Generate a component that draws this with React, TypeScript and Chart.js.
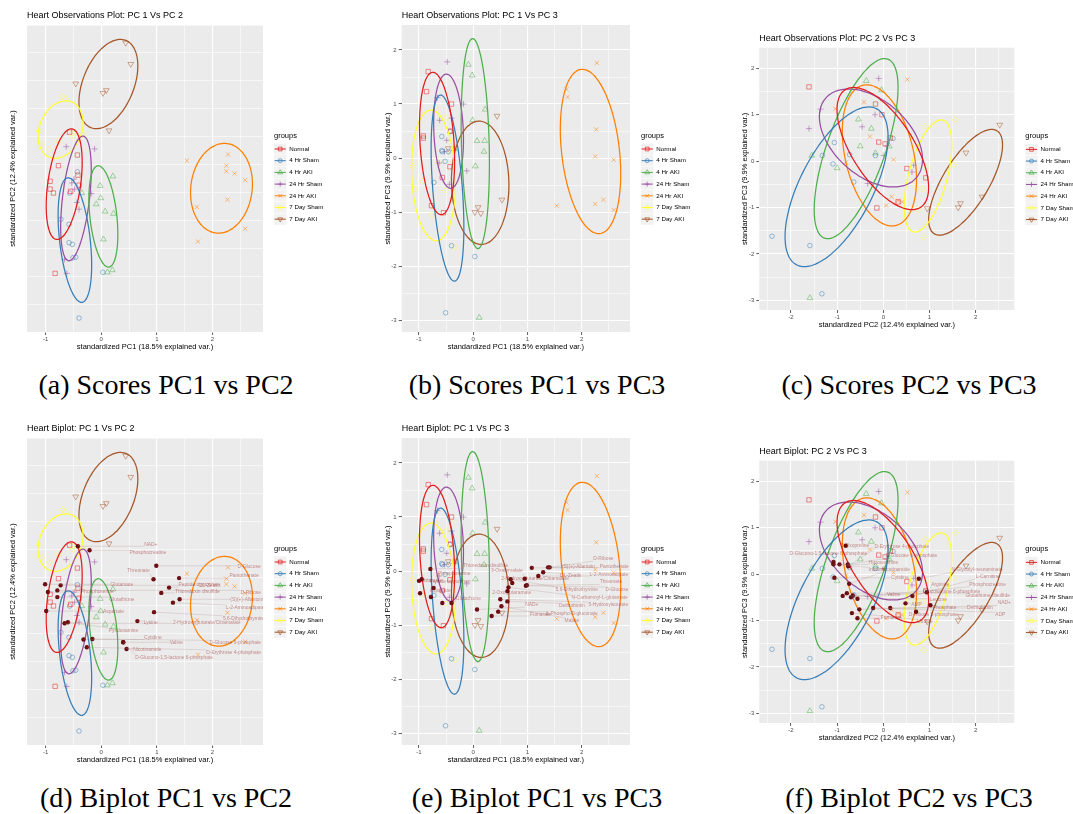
import React, { useEffect, useRef } from "react";
import { Chart, registerables } from "chart.js";

Chart.register(...registerables);

const FONT = "'Liberation Sans', Arial, Helvetica, sans-serif";
Chart.defaults.font.family = FONT;

// ---------- data ----------
const groupNames = ["Normal", "4 Hr Sham", "4 Hr AKI", "24 Hr Sham", "24 Hr AKI", "7 Day Sham", "7 Day AKI"];
const groupColors = ["#E41A1C", "#377EB8", "#4DAF4A", "#984EA3", "#FF7F00", "#FFFF33", "#A65628"];

// scores per sample: [PC1, PC2, PC3]
const normalScores = [
  [-0.57, 0.92, -0.36], [-0.43, 0.51, -0.16], [-0.77, 0.32, -0.88], [-0.92, 0.04, 0.37],
  [-0.92, -0.10, 0.41], [-0.86, -0.17, 1.23], [-0.42, 0.15, 0.50], [-0.40, -0.03, 1.00],
  [-0.55, -0.14, -1.01], [-0.83, -1.61, 1.60],
];
const sham4hScores = [
  [-0.43, 0.21, 0.49], [-0.57, -0.17, 0.12], [-0.725, -0.64, -0.45], [-0.58, -0.73, 0.14],
  [-0.58, -1.06, 0.40], [-0.52, -1.09, -0.06], [-0.51, -1.33, -2.86], [-0.46, -1.32, 0.12],
  [-0.40, -2.41, -1.62], [0.03, -1.59, -1.82],
];
const aki4hScores = [
  [0.21, 0.13, 0.32], [-0.02, -0.04, 1.53], [-0.01, -0.26, 0.70], [-0.09, -0.37, 1.73],
  [0.07, -0.50, 0.32], [0.22, -0.54, 0.90], [0.04, -1.00, -0.15], [0.11, -1.59, -2.95],
  [0.20, -1.55, 0.12], [-0.35, -0.17, 0.17],
];
const sham24hScores = [
  [-0.63, 0.66, -0.09], [-0.12, 0.62, -0.235], [-0.53, 0.01, 0.12], [-0.49, 0.08, 0.33],
  [-0.48, -0.10, 1.78], [-0.44, -0.34, -0.485], [-0.40, -0.46, 0.74], [-0.18, -0.18, 1.00],
  [-0.62, -1.61, 0.70], [-0.66, -1.36, 1.12],
];
const aki24hScores = [
  [2.28, 0.52, 1.76], [1.72, -0.42, 1.27], [1.74, -1.04, 1.13], [2.27, -0.29, 0.53],
  [2.25, 0.22, 0.03], [2.59, -0.81, -0.03], [2.40, 0.18, -0.77], [2.25, 0.32, -0.85],
  [2.59, 0.06, -0.96], [1.54, 0.41, -0.88],
];
const sham7dScores = [
  [-1.12, 0.94, -0.155], [-1.07, 0.70, -0.57], [-0.94, 0.61, -0.43], [-0.77, 0.75, -1.05],
  [-0.70, 1.56, 0.89], [-0.64, 1.52, -0.08], [-0.51, 0.85, -0.60], [-0.50, 0.90, 0.75],
  [-0.34, 0.87, -1.64],
];
const aki7dScores = [
  [0.44, 2.52, 0.78], [0.53, 2.14, -0.77], [-0.46, 1.79, 0.18],
  [0.03, 1.62, -1.00], [0.09, 1.67, -0.91], [0.14, 0.95, -1.02],
];
const groupScores = [normalScores, sham4hScores, aki4hScores, sham24hScores, aki24hScores, sham7dScores, aki7dScores];

// biplot variables: [name, point x, point y, label x, label y]
const biplot12 = [
  ["NAD+", -0.42, 0.90, 0.89, 0.93],
  ["Phosphocreatine", -0.21, 0.83, 0.84, 0.79],
  ["Threonate", 0.94, 0.31, 0.67, 0.46],
  ["D-Glucose", 0.99, 0.55, 2.66, 0.53],
  ["Pantothenate", 1.40, 0.33, 2.57, 0.37],
  ["Peptide tryptophan", 1.22, 0.16, 1.76, 0.22],
  ["DL-Zeatin", -0.73, 0.20, 1.95, 0.19],
  ["Thioredoxin disulfide", 1.08, 0.065, 1.73, 0.08],
  ["D-Ribose", -0.79, 0.11, 2.69, 0.07],
  ["(S)(+)-Allantoin", 1.41, -0.05, 2.62, -0.06],
  ["L-2-Aminoadipate", 1.29, -0.11, 2.59, -0.20],
  ["5,6-Dihydrothymine", 0.95, -0.28, 2.57, -0.39],
  ["2-Hydroxyglutarate/Citramalate", -0.66, -0.48, 1.90, -0.46],
  ["Lysine", 0.65, -0.44, 0.89, -0.46],
  ["Glutamate", -1.01, 0.22, 0.37, 0.22],
  ["Phosphoserine", -0.96, 0.08, -0.07, 0.08],
  ["Glutathione", -0.79, -0.01, 0.37, -0.05],
  ["Aspartate", -0.99, -0.26, 0.22, -0.27],
  ["Pyridoxamine", -0.60, -0.46, 0.40, -0.61],
  ["Cytidine", -0.32, -0.77, 0.93, -0.74],
  ["Valine", 0.395, -0.82, 1.35, -0.83],
  ["D-Glucose 6-phosphate", -0.16, -0.76, 2.41, -0.83],
  ["D-Erythrose 4-phosphate", -0.26, -0.91, 2.38, -1.00],
  ["Nicotinamide", 0.455, -0.94, 0.83, -0.95],
  ["D-Glucono-1,5-lactone 6-phosphate", 0.395, -0.82, 1.31, -1.09],
];
const biplot13 = [
  ["D-Ribose", 1.41, 0.07, 2.40, 0.23],
  ["(S)(+)-Allantoin", 1.08, 0.06, 1.94, 0.09],
  ["Pantothenate", 1.38, 0.07, 2.60, 0.08],
  ["DL-Zeatin", 1.29, -0.02, 1.80, -0.09],
  ["L-2-Aminoadipate", 1.20, -0.09, 2.50, -0.06],
  ["Threonate", 0.99, -0.26, 2.54, -0.20],
  ["5,6-Dihydrothymine", 0.69, -0.15, 1.91, -0.34],
  ["D-Glucose", 0.97, -0.27, 2.65, -0.34],
  ["N-Carbamoyl-L-glutamate", 0.65, -0.30, 2.33, -0.49],
  ["Dethiobiotin", 0.63, -0.56, 1.82, -0.64],
  ["5-Hydroxyisourate", 0.50, -0.52, 2.49, -0.62],
  ["6-Phospho-D-gluconate", 0.46, -0.75, 1.82, -0.78],
  ["Fumarate", 0.34, -0.83, 1.24, -0.81],
  ["Malate", 0.52, -0.65, 1.82, -0.91],
  ["NAD+", 0.07, -0.71, 1.08, -0.62],
  ["2-Oxoglutaramate", 0.63, -0.37, 0.71, -0.39],
  ["2-Hydroxyglutarate/Citramalate", 0.72, -0.22, 1.14, -0.14],
  ["3-Oxalomalate", 0.95, -0.14, 0.62, 0.00],
  ["Thioredoxin disulfide", -0.79, 0.04, 0.23, 0.10],
  ["Phosphoserine", -0.73, -0.31, -0.35, -0.04],
  ["Glutamate", -1.00, -0.18, -0.78, -0.17],
  ["Peptide tryptophan", -0.95, -0.15, -0.43, -0.20],
  ["Aspartate", -0.78, -0.48, -0.61, -0.36],
  ["Glutathione", -0.40, -0.59, -0.09, -0.51],
  ["", -0.98, -0.41, -0.98, -0.41],
  ["", -0.57, -0.59, -0.57, -0.59],
];
const biplot23 = [
  ["5-Oxoproline", -0.815, 0.61, -0.61, 0.62],
  ["D-Erythrose 4-phosphate", -0.76, 0.17, 0.40, 0.60],
  ["D-Glucono-1,5-lactone 6-phosphate", -1.08, 0.26, -1.19, 0.44],
  ["D-Glucose 6-phosphate", -0.77, 0.21, 0.61, 0.39],
  ["Hypoxanthine", -0.95, 0.21, 0.00, 0.25],
  ["Inosine", -1.08, 0.21, -0.15, 0.09],
  ["Nicotinamide", -0.74, -0.21, 0.27, 0.09],
  ["Cytidine", -1.06, -0.08, 0.36, -0.08],
  ["N-Glycolyl-neuraminate", 0.77, -0.10, 2.03, 0.09],
  ["L-Carnitine", 0.63, -0.47, 2.26, -0.05],
  ["Phosphocreatine", -0.70, -0.50, 2.26, -0.22],
  ["Arginine", 0.94, -0.39, 1.23, -0.22],
  ["Glucosamine 6-phosphate", -0.66, -0.46, 1.48, -0.37],
  ["Glutathione disulfide", -0.79, -0.41, 2.26, -0.46],
  ["Valine", -0.88, -0.47, 0.22, -0.45],
  ["Leucine", -0.56, -0.53, 1.19, -0.54],
  ["NAD+", -0.52, -0.76, 2.62, -0.62],
  ["AMP", 0.48, -0.63, 0.72, -0.65],
  ["Phosphate", 1.02, -0.67, 1.33, -0.73],
  ["Dethiobiotin", 0.15, -0.73, 2.09, -0.73],
  ["D-Ribose 5-phosphate", 0.71, -0.81, 1.08, -0.88],
  ["ADP", -0.22, -0.73, 2.53, -0.88],
  ["Fumarate", -0.56, -0.95, 0.17, -0.94],
  ["Uridine", -0.68, -0.84, 0.90, -1.03],
];

const axisTitles = [
  "standardized PC1 (18.5% explained var.)",
  "standardized PC2 (12.4% explained var.)",
  "standardized PC3 (9.9% explained var.)",
];

const captions = [
  "(a) Scores PC1 vs PC2", "(b) Scores PC1 vs PC3", "(c) Scores PC2 vs PC3",
  "(d) Biplot PC1 vs PC2", "(e) Biplot PC1 vs PC3", "(f) Biplot PC2 vs PC3",
];

// ---------- styles / layout ----------
const SHAPES = [
  { style: "rect", rot: 0, r: 3.1 },
  { style: "circle", rot: 0, r: 2.3 },
  { style: "triangle", rot: 0, r: 3.3 },
  { style: "cross", rot: 0, r: 3.0 },
  { style: "crossRot", rot: 0, r: 3.0 },
  { style: "rectRot", rot: 0, r: 3.0 },
  { style: "triangle", rot: 180, r: 3.3 },
];

const ROW2 = 413;
const PANELS = [
  { left: 0, top: 0, w: 357, area: { l: 27, t: 25, r: 263, b: 332 }, yTitleX: 13.3, xi: 0, yi: 1, xr: [-1.336, 2.91], yr: [-2.66, 2.84], title: "Heart Observations Plot: PC 1 Vs PC 2", bi: null },
  { left: 357, top: 0, w: 360, area: { l: 44.7, t: 25, r: 273, b: 332 }, yTitleX: 31.3, xi: 0, yi: 2, xr: [-1.319, 2.891], yr: [-3.216, 2.462], title: "Heart Observations Plot: PC 1 Vs PC 3", bi: null },
  { left: 717, top: 0, w: 356, area: { l: 42.3, t: 47.7, r: 297.3, b: 310 }, yTitleX: 28, xi: 1, yi: 2, xr: [-2.686, 2.836], yr: [-3.209, 2.444], title: "Heart Observations Plot: PC 2 Vs PC 3", bi: null },
  { left: 0, top: ROW2, w: 357, area: { l: 27, t: 25, r: 263, b: 332 }, yTitleX: 13.3, xi: 0, yi: 1, xr: [-1.336, 2.91], yr: [-2.66, 2.84], title: "Heart Biplot: PC 1 Vs PC 2", bi: biplot12 },
  { left: 357, top: ROW2, w: 360, area: { l: 44.7, t: 25, r: 273, b: 332 }, yTitleX: 31.3, xi: 0, yi: 2, xr: [-1.319, 2.891], yr: [-3.216, 2.462], title: "Heart Biplot: PC 1 Vs PC 3", bi: biplot13 },
  { left: 717, top: ROW2, w: 356, area: { l: 42.3, t: 47.7, r: 297.3, b: 310 }, yTitleX: 28, xi: 1, yi: 2, xr: [-2.686, 2.836], yr: [-3.209, 2.444], title: "Heart Biplot: PC 2 Vs PC 3", bi: biplot23 },
];
const CAPTION_X = [166, 537, 909];

// ---------- helpers ----------
function hexA(hex: string, a: number) {
  const n = parseInt(hex.slice(1), 16);
  return `rgba(${n >> 16},${(n >> 8) & 255},${n & 255},${a})`;
}
const isInt = (v: number) => Math.abs(v - Math.round(v)) < 1e-6;

// normal-probability ellipse (68%) from the sample covariance, as ggbiplot does
function ellipseOf(pts: { x: number; y: number }[]) {
  const n = pts.length;
  const mx = pts.reduce((s, p) => s + p.x, 0) / n;
  const my = pts.reduce((s, p) => s + p.y, 0) / n;
  let sxx = 0, syy = 0, sxy = 0;
  pts.forEach((p) => { sxx += (p.x - mx) ** 2; syy += (p.y - my) ** 2; sxy += (p.x - mx) * (p.y - my); });
  sxx /= n - 1; syy /= n - 1; sxy /= n - 1;
  const r11 = Math.sqrt(sxx), r12 = sxy / r11, r22 = Math.sqrt(Math.max(syy - r12 * r12, 0));
  const ed = Math.sqrt(-2 * Math.log(1 - 0.68));
  const out: { x: number; y: number }[] = [];
  for (let i = 0; i <= 100; i++) {
    const t = (2 * Math.PI * i) / 100;
    const c = Math.cos(t), s = Math.sin(t);
    out.push({ x: mx + ed * c * r11, y: my + ed * (c * r12 + s * r22) });
  }
  return out;
}

function drawShape(ctx: CanvasRenderingContext2D, style: string, x: number, y: number, r: number, rotDeg: number) {
  let rad = (rotDeg * Math.PI) / 180;
  ctx.beginPath();
  if (style === "rect") {
    const s = r * Math.SQRT1_2;
    ctx.rect(x - s, y - s, 2 * s, 2 * s);
  } else if (style === "circle") {
    ctx.arc(x, y, r, 0, Math.PI * 2);
  } else if (style === "triangle") {
    for (let k = 0; k < 3; k++) {
      const px = x + Math.sin(rad) * r, py = y - Math.cos(rad) * r;
      if (k === 0) ctx.moveTo(px, py); else ctx.lineTo(px, py);
      rad += (2 * Math.PI) / 3;
    }
    ctx.closePath();
  } else if (style === "cross") {
    ctx.moveTo(x, y - r); ctx.lineTo(x, y + r); ctx.moveTo(x - r, y); ctx.lineTo(x + r, y);
  } else if (style === "crossRot") {
    const d = r * Math.SQRT1_2;
    ctx.moveTo(x - d, y - d); ctx.lineTo(x + d, y + d); ctx.moveTo(x - d, y + d); ctx.lineTo(x + d, y - d);
  } else if (style === "rectRot") {
    ctx.moveTo(x, y - r); ctx.lineTo(x + r, y); ctx.lineTo(x, y + r); ctx.lineTo(x - r, y); ctx.closePath();
  }
  ctx.stroke();
}

function buildConfig(p: any) {
  const datasets: any[] = [];
  groupScores.forEach((g, i) => {
    const sh = SHAPES[i];
    datasets.push({
      data: g.map((s) => ({ x: s[p.xi], y: s[p.yi] })),
      pointStyle: sh.style,
      pointRotation: sh.rot,
      pointRadius: sh.r,
      pointBorderWidth: 0.8,
      pointBorderColor: hexA(groupColors[i], 0.62),
      pointBackgroundColor: "rgba(0,0,0,0)",
      borderColor: hexA(groupColors[i], 0.62),
      backgroundColor: "rgba(0,0,0,0)",
      order: 3,
    });
  });
  groupScores.forEach((g, i) => {
    datasets.push({
      data: ellipseOf(g.map((s) => ({ x: s[p.xi], y: s[p.yi] }))),
      showLine: true,
      pointRadius: 0,
      borderColor: groupColors[i],
      borderWidth: 1.25,
      borderJoinStyle: "round",
      borderCapStyle: "round",
      fill: false,
      tension: 0.3,
      order: 2,
    });
  });
  if (p.bi) {
    datasets.push({
      data: p.bi.map((b: any[]) => ({ x: b[1], y: b[2] })),
      pointStyle: "circle",
      pointRadius: 2.2,
      pointBorderWidth: 0,
      pointBackgroundColor: "#6A0B0E",
      backgroundColor: "#6A0B0E",
      borderColor: "#6A0B0E",
      order: 1,
    });
  }

  const H = 22;
  const gridOpts = {
    color: "#FFFFFF",
    lineWidth: (c: any) => (c.tick && isInt(c.tick.value) ? 1.1 : 0.55),
    tickColor: (c: any) => (c.tick && isInt(c.tick.value) ? "#333333" : "rgba(0,0,0,0)"),
    tickLength: 3,
    tickWidth: 0.8,
    drawOnChartArea: true,
  };
  const tickOpts = {
    stepSize: 0.5,
    includeBounds: false,
    autoSkip: false,
    maxRotation: 0,
    color: "#4D4D4D",
    font: { size: 6, family: FONT },
    callback: (v: any) => (isInt(Number(v)) ? String(Math.round(Number(v))) : ""),
  };

  const bgPlugin = {
    id: "panelBg",
    beforeDraw(chart: any) {
      const { ctx, chartArea: a } = chart;
      ctx.save();
      ctx.fillStyle = "#EBEBEB";
      ctx.fillRect(a.left, a.top, a.right - a.left, a.bottom - a.top);
      ctx.restore();
    },
  };

  const labelPlugin = {
    id: "biplotLabels",
    afterDatasetsDraw(chart: any) {
      if (!p.bi) return;
      const { ctx, chartArea: a, scales } = chart;
      const xs = scales.x, ys = scales.y;
      ctx.save();
      ctx.beginPath();
      ctx.rect(a.left, a.top, a.right - a.left, a.bottom - a.top);
      ctx.clip();
      ctx.font = `4.9px ${FONT}`;
      ctx.textAlign = "center";
      ctx.textBaseline = "middle";
      ctx.strokeStyle = "rgba(165,120,120,0.38)";
      ctx.lineWidth = 0.6;
      p.bi.forEach((b: any[]) => {
        if (!b[0]) return;
        const px = xs.getPixelForValue(b[1]), py = ys.getPixelForValue(b[2]);
        const tx = xs.getPixelForValue(b[3]), ty = ys.getPixelForValue(b[4]);
        const w = ctx.measureText(b[0]).width;
        const cx = Math.max(tx - w / 2, Math.min(px, tx + w / 2));
        const cy = Math.max(ty - 2.5, Math.min(py, ty + 2.5));
        if (Math.hypot(cx - px, cy - py) > 3) {
          ctx.beginPath();
          ctx.moveTo(px, py);
          ctx.lineTo(cx, cy);
          ctx.stroke();
        }
      });
      ctx.fillStyle = "rgba(139,0,0,0.45)";
      p.bi.forEach((b: any[]) => {
        if (!b[0]) return;
        ctx.fillText(b[0], xs.getPixelForValue(b[3]), ys.getPixelForValue(b[4]));
      });
      ctx.restore();
    },
  };

  const decoPlugin = {
    id: "decorations",
    afterDraw(chart: any) {
      const { ctx, chartArea: a } = chart;
      ctx.save();
      // title
      ctx.fillStyle = "#000";
      ctx.font = `9px ${FONT}`;
      ctx.textAlign = "left";
      ctx.textBaseline = "middle";
      ctx.fillText(p.title, a.left, a.top - 9);
      // legend
      const lx = a.right + 11;
      const cy = (a.top + a.bottom) / 2;
      ctx.font = `7.5px ${FONT}`;
      ctx.fillText("groups", lx, cy - 42.5);
      groupNames.forEach((name, i) => {
        const ky = cy - 29.5 + i * 11.7;
        ctx.fillStyle = "#F2F2F2";
        ctx.fillRect(lx, ky - 5.6, 12.4, 11.2);
        ctx.strokeStyle = groupColors[i];
        ctx.lineWidth = 1;
        ctx.beginPath();
        ctx.moveTo(lx + 0.6, ky);
        ctx.lineTo(lx + 11.8, ky);
        ctx.stroke();
        ctx.strokeStyle = hexA(groupColors[i], 0.85);
        ctx.lineWidth = 0.8;
        drawShape(ctx, SHAPES[i].style, lx + 6.2, ky, SHAPES[i].r * 0.85, SHAPES[i].rot);
        ctx.fillStyle = "#000";
        ctx.font = `6.2px ${FONT}`;
        ctx.fillText(name, lx + 15.3, ky);
      });
      ctx.restore();
    },
  };

  return {
    type: "scatter",
    data: { datasets },
    options: {
      responsive: false,
      animation: false,
      devicePixelRatio: 1,
      events: [],
      layout: { padding: { left: 0, top: p.area.t, right: p.w - p.area.r, bottom: 0 } },
      plugins: { legend: { display: false }, tooltip: { enabled: false }, title: { display: false } },
      scales: {
        x: {
          type: "linear",
          min: p.xr[0],
          max: p.xr[1],
          afterFit: (s: any) => { s.height = H; },
          grid: gridOpts,
          border: { display: false },
          ticks: { ...tickOpts, padding: 1 },
          title: {
            display: true,
            text: axisTitles[p.xi],
            color: "#000",
            font: { size: 7.5, family: FONT, lineHeight: 1.2 },
            padding: { top: 0, bottom: H - 14.7 - 4.5 },
          },
        },
        y: {
          type: "linear",
          min: p.yr[0],
          max: p.yr[1],
          afterFit: (s: any) => { s.width = p.area.l; },
          grid: gridOpts,
          border: { display: false },
          ticks: { ...tickOpts, padding: 2 },
          title: {
            display: true,
            text: axisTitles[p.yi],
            color: "#000",
            font: { size: 7.5, family: FONT, lineHeight: 1.2 },
            padding: { top: p.yTitleX - 4.5, bottom: 0 },
          },
        },
      },
    },
    plugins: [bgPlugin, labelPlugin, decoPlugin],
  };
}

function Panel({ p }: { p: any }) {
  const ref = useRef<HTMLCanvasElement>(null);
  const h = p.area.b + 22;
  useEffect(() => {
    const chart = new Chart(ref.current as HTMLCanvasElement, buildConfig(p) as any);
    return () => chart.destroy();
  }, []);
  return (
    <canvas
      ref={ref}
      width={p.w}
      height={h}
      style={{ position: "absolute", left: p.left, top: p.top, width: p.w, height: h }}
    />
  );
}

export default function App() {
  return (
    <div style={{ position: "absolute", left: 0, top: 0, width: 1073, height: 814, background: "#fff", overflow: "hidden" }}>
      {PANELS.map((p, i) => (
        <Panel key={i} p={p} />
      ))}
      {captions.map((c, i) => (
        <div
          key={c}
          style={{
            position: "absolute",
            left: CAPTION_X[i % 3] - 200,
            top: 370.5 + (i >= 3 ? ROW2 : 0),
            width: 400,
            textAlign: "center",
            fontFamily: "'Liberation Serif', 'Times New Roman', serif",
            fontSize: 28,
            lineHeight: "28px",
            color: "#000",
            whiteSpace: "nowrap",
          }}
        >
          {c}
        </div>
      ))}
    </div>
  );
}
